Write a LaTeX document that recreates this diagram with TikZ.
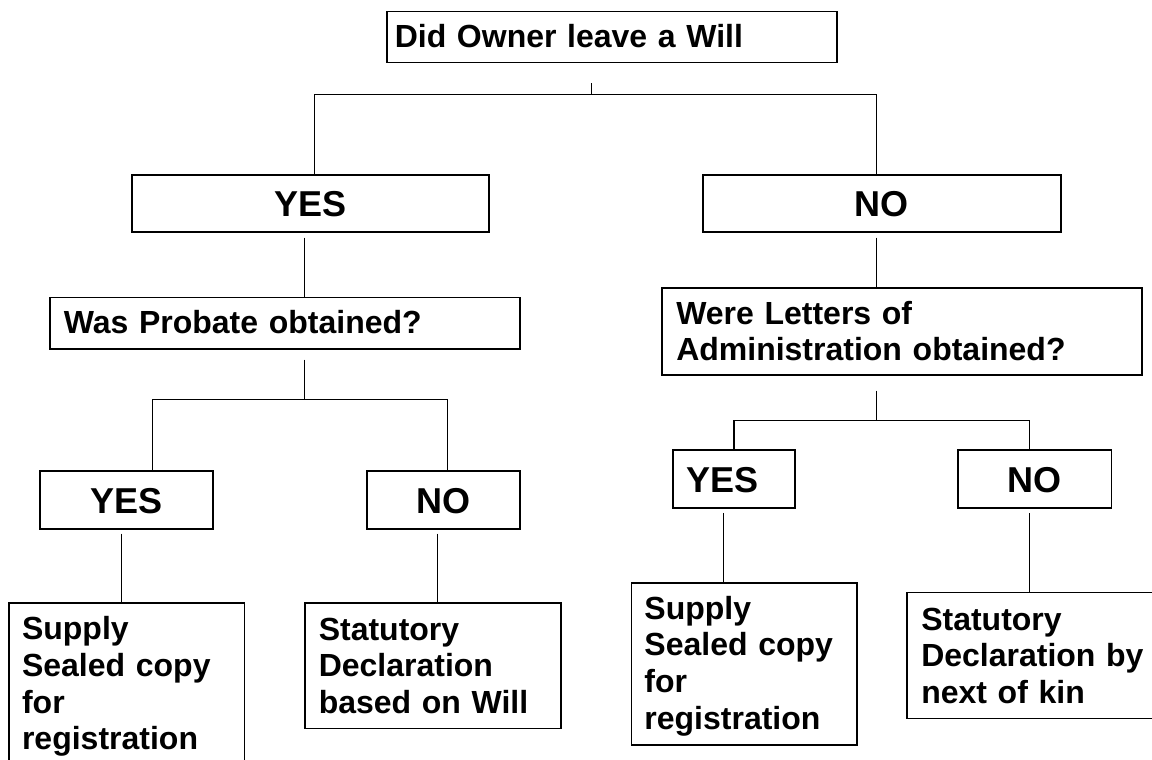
\documentclass[tikz,border=0pt]{standalone}
\usepackage{fontspec}
\setmainfont{Liberation Sans}
\usetikzlibrary{calc}
\begin{document}
\begin{tikzpicture}[x=1pt,y=-1pt,
  box/.style={draw=black, line width=1.5pt, inner ysep=0pt, anchor=north west,
    font={\bfseries\fontsize{32}{36.7}\selectfont}},
  ans/.style={box, align=center, font={\bfseries\fontsize{36}{40}\selectfont}},
  conn/.style={draw=black, line width=1.2pt}]
\useasboundingbox[fill=white] (0,0) rectangle (1152,760);

\node[box, align=left, inner xsep=8pt, text width=434pt, text height=35.7pt, text depth=15.3pt] (top) at (386,11) {Did Owner leave a Will};
\node[ans, inner xsep=5pt, text width=347pt, text height=42pt, text depth=15pt] (yes1) at (131,174) {YES};
\node[ans, inner xsep=5pt, text width=348pt, text height=42pt, text depth=15pt] (no1) at (702,174) {NO};
\node[box, align=left, inner xsep=14pt, text width=442pt, text height=36.2pt, text depth=15.3pt] (probate) at (49,296.5) {Was Probate obtained?};
\node[box, align=left, inner xsep=14.5pt, text width=451pt, text height=36.3pt, text depth=50.7pt] (letters) at (661,287) {Were Letters of\\Administration obtained?};
\node[ans, inner xsep=5pt, text width=163pt, text height=42.3pt, text depth=15.7pt] (yes2) at (39,470) {YES};
\node[ans, inner xsep=5pt, text width=143pt, text height=42.3pt, text depth=15.7pt] (no2) at (366,470) {NO};
\node[ans, align=left, inner xsep=14pt, text width=94.3pt, text height=42.4pt, text depth=15.3pt] (yes3) at (672,449.3) {YES};
\node[ans, inner xsep=5pt, text width=143.4pt, text height=42.4pt, text depth=15.3pt] (no3) at (957.3,449.3) {NO};
\node[box, align=left, inner xsep=13pt, text width=209.4pt, text height=36.7pt, text depth=123pt] (supply1) at (8.3,602.3) {Supply\\Sealed copy\\for\\registration};
\node[box, align=left, inner xsep=14pt, text width=228pt, text height=37pt, text depth=88.4pt] (stat1) at (304,602.3) {Statutory\\Declaration\\based on Will};
\node[box, align=left, inner xsep=13pt, text width=199.3pt, text height=36pt, text depth=125.7pt] (supply2) at (630.7,582.3) {Supply\\Sealed copy\\for\\registration};
\node[box, align=left, inner xsep=14.5pt, text width=225pt, text height=37.8pt, text depth=88pt] (stat2) at (906,591.7) {Statutory\\Declaration by\\next of kin};

\coordinate (t0) at ($(top.south)+(-20,20)$);
\coordinate (hub1) at ($(t0)+(0,11)$);
\draw[conn] (t0) -- (hub1);
\draw[conn] ($(yes1.north)+(4.5,0)$) |- (hub1) -| ($(no1.north)+(-5,0)$);

\coordinate (a1) at ($(yes1.south)+(-5.5,5)$);
\draw[conn] (a1) -- (a1 |- probate.north);

\coordinate (p0) at ($(probate.south)+(20,10)$);
\coordinate (hub2) at ($(p0)+(0,40)$);
\draw[conn] (p0) -- (hub2);
\draw[conn] ($(yes2.north)+(26.5,0)$) |- (hub2) -| ($(no2.north)+(4.5,0)$);

\coordinate (a2) at ($(yes2.south)+(-4.5,4)$);
\draw[conn] (a2) -- (a2 |- supply1.north);
\coordinate (a3) at ($(no2.south)+(-5.5,4)$);
\draw[conn] (a3) -- (a3 |- stat1.north);

\coordinate (a4) at ($(no1.south)+(-5,5)$);
\draw[conn] (a4) -- (a4 |- letters.north);

\coordinate (l0) at ($(letters.south)+(-25,15)$);
\coordinate (hub3) at ($(l0)+(0,30)$);
\draw[conn] (l0) -- (hub3);
\draw[conn] (yes3.north) |- (hub3) -| ($(no3.north)+(-5,0)$);

\coordinate (a5) at ($(yes3.south)+(-10.5,4.3)$);
\draw[conn] (a5) -- (a5 |- supply2.north);
\coordinate (a6) at ($(no3.south)+(-5,4.7)$);
\draw[conn] (a6) -- (a6 |- stat2.north);
\end{tikzpicture}
\end{document}
